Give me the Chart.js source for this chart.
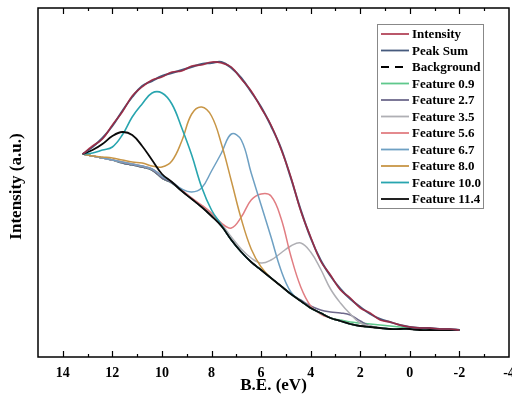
<!DOCTYPE html>
<html>
<head>
<meta charset="utf-8">
<script src="https://cdn.jsdelivr.net/npm/chart.js@4"></script>
<style>
html, body { margin: 0; padding: 0; background: #fff; }
#wrap { width: 512px; height: 405px; }
</style>
</head>
<body>
<div id="wrap"><canvas id="chart" width="512" height="405"></canvas></div>
<script>
// binding energy grid (eV)
const BE = [13.2, 12.8, 12.4, 12.0, 11.6, 11.2, 10.8, 10.4, 10.0, 9.6, 9.2, 8.8, 8.4, 8.0, 7.6, 7.2, 6.8, 6.4, 6.0, 5.6,
    5.2, 4.8, 4.4, 4.0, 3.6, 3.2, 2.8, 2.4, 2.0, 1.6, 1.2, 0.8, 0.4, 0.0, -0.4, -0.8, -1.2, -1.6, -2.0]

const intensity = [203, 211, 218, 232, 245, 261, 270, 277, 280, 285, 286, 291, 292, 295, 294, 290, 278, 266, 249, 232,
    208, 180, 146, 120, 96, 82, 67, 59, 49, 44, 37, 35, 32, 30, 29, 29, 28, 28, 27]
const peakSum = [203, 210, 219, 231, 246, 260, 271, 276, 281, 284, 287, 290, 293, 294, 295, 289, 279, 265, 250, 231,
    209, 179, 147, 119, 97, 81, 68, 58, 50, 43, 38, 35, 32, 30, 29, 29, 28, 28, 27]
const background = [203, 201, 199, 197, 194, 192, 190, 187, 179, 174, 166, 158, 150, 141, 131, 117, 105, 95, 87, 79,
    71, 63, 56, 49, 44, 39, 36, 33, 31, 30, 29, 28, 28, 28, 27, 27, 27, 27, 27]
const feat09 = [203, 201, 199, 197, 194, 192, 190, 187, 179, 174, 166, 158, 150, 141, 131, 117, 105, 95, 87, 79,
    71, 63, 56, 49, 44, 39, 37, 35, 34, 33, 32, 31, 30, 29, 28, 28, 27, 27, 27]
const feat27 = [203, 201, 199, 197, 194, 192, 190, 187, 179, 174, 166, 158, 150, 141, 131, 117, 105, 95, 87, 79,
    71, 63, 57, 51, 47, 45, 44, 42, 36, 31, 29, 28, 28, 28, 27, 27, 27, 27, 27]
const feat35 = [203, 201, 199, 197, 195, 193, 191, 188, 181, 175, 167, 159, 151, 143, 133, 120, 108, 99, 94, 97,
    104, 111, 114, 105, 88, 68, 54, 43, 34, 31, 29, 28, 28, 28, 27, 27, 27, 27, 27]
const feat56 = [203, 201, 199, 197, 195, 193, 191, 188, 181, 175, 167, 159, 152, 144, 134, 129, 140, 157, 163, 161,
    139, 101, 70, 51, 43, 39, 36, 33, 31, 30, 29, 28, 28, 28, 27, 27, 27, 27, 27]
const feat67 = [203, 201, 199, 197, 195, 193, 191, 188, 181, 175, 168, 165, 169, 186, 204, 223, 217, 184, 152, 120,
    87, 65, 56, 49, 44, 39, 36, 33, 31, 30, 29, 28, 28, 28, 27, 27, 27, 27, 27]
const feat80 = [203, 201, 200, 199, 197, 195, 194, 191, 190, 196, 216, 243, 250, 241, 213, 176, 138, 108, 90, 79,
    71, 63, 56, 49, 44, 39, 36, 33, 31, 30, 29, 28, 28, 28, 27, 27, 27, 27, 27]
const feat100 = [203, 204, 207, 210, 222, 240, 253, 264, 264, 253, 229, 202, 170, 147, 132, 117, 105, 95, 87, 79,
    71, 63, 56, 49, 44, 39, 36, 33, 31, 30, 29, 28, 28, 28, 27, 27, 27, 27, 27]
const feat114 = [203, 207, 213, 221, 225, 222, 211, 197, 183, 175, 166, 158, 150, 141, 131, 117, 105, 95, 87, 79,
    71, 63, 56, 49, 44, 39, 36, 33, 31, 30, 29, 28, 28, 28, 27, 27, 27, 27, 27]

const xTicks = [14, 12, 10, 8, 6, 4, 2, 0, -2, -4]

function toPoints(vals) {
    return BE.map((x, i) => ({x: x, y: vals[i]}))
}

function line(label, vals, color, width, order, dash) {
    return {
        label: label,
        data: toPoints(vals),
        borderColor: color,
        borderWidth: width,
        borderDash: dash || [],
        pointRadius: 0,
        fill: false,
        tension: 0.4,
        order: order
    }
}

const serif = '"Liberation Serif", "Times New Roman", serif'

const framePlugin = {
    id: 'frame',
    afterDraw(chart) {
        const ctx = chart.ctx
        const a = chart.chartArea
        const sx = chart.scales.x
        ctx.save()
        ctx.strokeStyle = '#000'
        ctx.lineWidth = 1.5
        ctx.strokeRect(a.left, a.top, a.right - a.left, a.bottom - a.top)
        ctx.lineWidth = 1.2
        for (let v = -3; v <= 14; v++) {
            const px = Math.round(sx.getPixelForValue(v)) + 0.5
            const len = v % 2 === 0 ? 6 : 3
            ctx.beginPath()
            ctx.moveTo(px, a.bottom)
            ctx.lineTo(px, a.bottom - len)
            ctx.moveTo(px, a.top)
            ctx.lineTo(px, a.top + len)
            ctx.stroke()
        }

        // y axis title
        ctx.save()
        ctx.translate(17, (a.top + a.bottom) / 2 + 4)
        ctx.rotate(-Math.PI / 2)
        ctx.fillStyle = '#000'
        ctx.font = 'bold 17px ' + serif
        ctx.textAlign = 'center'
        ctx.textBaseline = 'middle'
        ctx.fillText('Intensity (a.u.)', 0, 0)
        ctx.restore()

        // legend box
        const bx = 377, by = 24, bw = 106, bh = 184
        ctx.fillStyle = '#fff'
        ctx.fillRect(bx, by, bw, bh)
        ctx.strokeStyle = '#888'
        ctx.lineWidth = 1
        ctx.strokeRect(bx + 0.5, by + 0.5, bw, bh)
        ctx.font = 'bold 13px ' + serif
        ctx.textAlign = 'left'
        ctx.textBaseline = 'middle'
        chart.data.datasets.forEach((ds, i) => {
            const y = by + 10 + i * 16.5
            ctx.strokeStyle = ds.borderColor
            ctx.lineWidth = 1.8
            ctx.setLineDash(ds.borderDash)
            ctx.beginPath()
            ctx.moveTo(bx + 4, y)
            ctx.lineTo(bx + 32, y)
            ctx.stroke()
            ctx.setLineDash([])
            ctx.fillStyle = '#000'
            ctx.fillText(ds.label, bx + 35, y + 1)
        })
        ctx.restore()
    }
}

const datasets = [
    line('Intensity', intensity, 'rgba(165,35,60,0.85)', 1.6, 0),
    line('Peak Sum', peakSum, 'rgb(70,90,125)', 2, 1),
    line('Background', background, '#000', 1.5, 11, [8, 6]),
    line('Feature 0.9', feat09, 'rgb(95,200,140)', 1.5, 10),
    line('Feature 2.7', feat27, 'rgb(110,105,140)', 1.5, 9),
    line('Feature 3.5', feat35, 'rgb(175,175,180)', 1.5, 8),
    line('Feature 5.6', feat56, 'rgb(225,125,130)', 1.5, 7),
    line('Feature 6.7', feat67, 'rgb(110,160,195)', 1.5, 6),
    line('Feature 8.0', feat80, 'rgb(200,150,70)', 1.5, 5),
    line('Feature 10.0', feat100, 'rgb(40,165,175)', 1.6, 4),
    line('Feature 11.4', feat114, 'rgb(10,10,10)', 1.8, 2)
]

const config = {
    type: 'line',
    data: {datasets: datasets},
    options: {
        responsive: false,
        animation: false,
        devicePixelRatio: 1,
        layout: {
            autoPadding: false,
            padding: {left: 38, right: 3, top: 8, bottom: 0}
        },
        plugins: {
            legend: {display: false},
            tooltip: {enabled: false}
        },
        scales: {
            x: {
                type: 'linear',
                min: -4,
                max: 15,
                reverse: true,
                grid: {display: false, drawTicks: false},
                border: {display: false},
                afterBuildTicks(scale) {
                    scale.ticks = xTicks.map(v => ({value: v}))
                },
                afterFit(scale) {
                    scale.height = 48
                    scale.paddingLeft = 0
                    scale.paddingRight = 0
                },
                ticks: {
                    padding: 8,
                    color: '#000',
                    font: {family: serif, size: 14, weight: 'bold'},
                    maxRotation: 0,
                    autoSkip: false
                },
                title: {
                    display: true,
                    text: 'B.E. (eV)',
                    color: '#000',
                    font: {family: serif, size: 17, weight: 'bold'},
                    padding: {top: 0, bottom: 9}
                }
            },
            y: {
                display: false,
                min: 0,
                max: 349
            }
        }
    },
    plugins: [framePlugin]
}

const myChart = new Chart(document.getElementById('chart'), config)
</script>
</body>
</html>
